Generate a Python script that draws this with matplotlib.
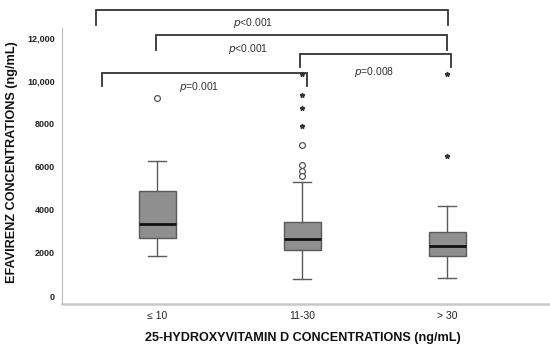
import matplotlib
matplotlib.use("Agg")
import matplotlib.pyplot as plt

plt.rcParams['font.family'] = ['Liberation Sans', 'DejaVu Sans']

# Data
categories = ["≤ 10", "11-30", "> 30"]
whisker_low = [1860, 790, 850]
q1 = [2680, 2140, 1840]
median = [3330, 2650, 2320]
q3 = [4890, 3440, 2970]
whisker_high = [6280, 5310, 4190]
circle_outliers = [[9180], [7010, 6070, 5800, 5560], []]
star_outliers = [[], [10300, 9350, 8740, 7890], [10300, 6490]]
yticks = [0, 2000, 4000, 6000, 8000, 10000, 12000]
ytick_labels = ["0", "2000", "4000", "6000", "8000", "10,000", "12,000"]
# comparisons: (x_left, x_right, bar_y, leg_y, text_x, text_y, p-text)
comparisons = [
    (0.578, 3.007, 13280, 12600, 1.66, 12670, "<0.001"),
    (0.990, 2.997, 12110, 11420, 1.63, 11470, "<0.001"),
    (1.983, 3.030, 11260, 10630, 2.50, 10420, "=0.008"),
    (0.624, 2.037, 10360, 9750, 1.29, 9700, "=0.001"),
]

W, H = 550, 347
fig = plt.figure(figsize=(5.5, 3.47), dpi=100)
ax = fig.add_axes([0.112, 0.124, 0.888, 0.795])

positions = list(range(1, len(categories) + 1))
stats = []
for i in range(len(categories)):
    stats.append(dict(med=median[i], q1=q1[i], q3=q3[i],
                      whislo=whisker_low[i], whishi=whisker_high[i], fliers=[]))

ax.bxp(stats, positions=positions, widths=0.255, patch_artist=True, showfliers=False,
       boxprops=dict(facecolor="#8f8f8f", edgecolor="#5a5a5a", linewidth=1.0),
       medianprops=dict(color="#111111", linewidth=2.0),
       whiskerprops=dict(color="#5a5a5a", linewidth=1.0),
       capprops=dict(color="#5a5a5a", linewidth=1.0))

for i, pos in enumerate(positions):
    if circle_outliers[i]:
        ax.plot([pos] * len(circle_outliers[i]), circle_outliers[i], 'o',
                markerfacecolor='white', markeredgecolor='#555555', markersize=4.2,
                markeredgewidth=0.9, clip_on=False)
    if star_outliers[i]:
        ax.plot([pos] * len(star_outliers[i]), star_outliers[i], '*',
                color='#333333', markersize=3.5, clip_on=False)

for (xl, xr, by, ly, tx, ty, ptxt) in comparisons:
    ax.plot([xl, xl, xr, xr], [ly, by, by, ly], color='#333333', linewidth=1.3,
            clip_on=False, solid_joinstyle='miter')
    ax.text(tx, ty, r"$\it{p}$" + ptxt, ha='center', va='center', fontsize=7.5,
            color='#333333')

ax.set_xlim(0.342, 3.71)
ax.set_ylim(-370, 12440)
ax.set_xticks(positions)
ax.set_xticklabels(categories, fontsize=7.5)
ax.set_yticks(yticks)
ax.set_yticklabels(ytick_labels, fontsize=6.5, fontweight='bold')
ax.tick_params(length=0, pad=5, axis='y', colors='#222222')
ax.tick_params(length=0, pad=5, axis='x', colors='#222222')
for s in ['top', 'right']:
    ax.spines[s].set_visible(False)
ax.spines['left'].set_color('#bbbbbb')
ax.spines['bottom'].set_color('#c8c8c8')
ax.spines['bottom'].set_linewidth(1.8)

fig.text(303 / W, 1 - 338 / H, "25-HYDROXYVITAMIN D CONCENTRATIONS (ng/mL)",
         fontsize=9.1, fontweight='bold', color='#111111', ha='center', va='center')
fig.text(12 / W, 1 - 162 / H, "EFAVIRENZ CONCENTRATIONS (ng/mL)", rotation=90,
         fontsize=9.1, fontweight='bold', color='#111111', ha='center', va='center')

fig.savefig("out.png", dpi=100)
